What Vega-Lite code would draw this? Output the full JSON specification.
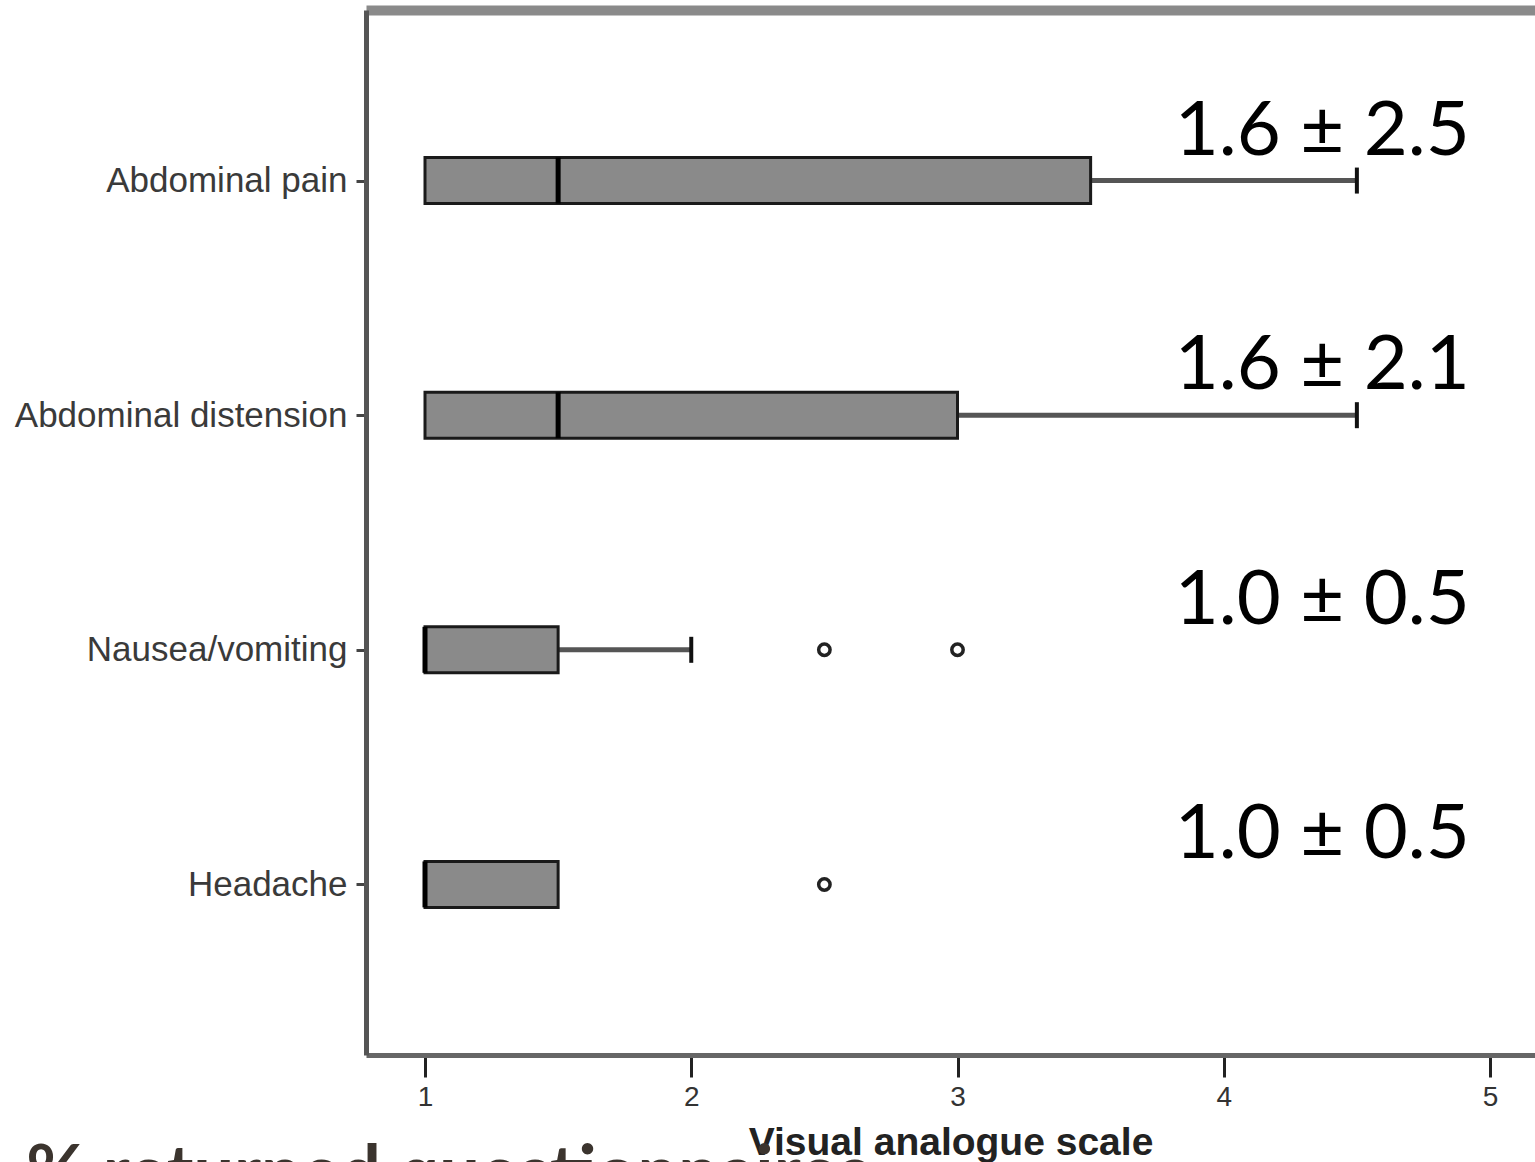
{
  "$schema": "https://vega.github.io/schema/vega-lite/v6.json",
  "autosize": {"type": "none"},
  "padding": {"left": 366, "top": 10, "right": 0, "bottom": 107},
  "width": 1169,
  "height": 1045,
  "background": "white",
  "config": {"view": {"stroke": null}, "font": "Liberation Sans"},
  "title": {
    "text": "% returned questionnaires",
    "orient": "bottom",
    "anchor": "start",
    "frame": "bounds",
    "font": "Lato",
    "fontSize": 72,
    "fontWeight": "bold",
    "color": "#3b342e",
    "offset": -22,
    "dx": 12
  },
  "datasets": {
    "boxes": [
      {"symptom": "Abdominal pain", "q1": 1, "median": 1.5, "q3": 3.5},
      {"symptom": "Abdominal distension", "q1": 1, "median": 1.5, "q3": 3.0},
      {"symptom": "Nausea/vomiting", "q1": 1, "median": 1, "q3": 1.5},
      {"symptom": "Headache", "q1": 1, "median": 1, "q3": 1.5}
    ],
    "whiskers": [
      {"symptom": "Abdominal pain", "from": 3.5, "to": 4.5},
      {"symptom": "Abdominal distension", "from": 3.0, "to": 4.5},
      {"symptom": "Nausea/vomiting", "from": 1.5, "to": 2.0}
    ],
    "outliers": [
      {"symptom": "Nausea/vomiting", "value": 2.5},
      {"symptom": "Nausea/vomiting", "value": 3.0},
      {"symptom": "Headache", "value": 2.5}
    ],
    "labels": [
      {"symptom": "Abdominal pain", "pos": 4.37, "label": "1.6 ± 2.5"},
      {"symptom": "Abdominal distension", "pos": 4.37, "label": "1.6 ± 2.1"},
      {"symptom": "Nausea/vomiting", "pos": 4.37, "label": "1.0 ± 0.5"},
      {"symptom": "Headache", "pos": 4.37, "label": "1.0 ± 0.5"}
    ]
  },
  "encoding": {
    "y": {
      "field": "symptom",
      "type": "nominal",
      "scale": {
        "type": "point",
        "padding": 0.727,
        "domain": ["Abdominal pain", "Abdominal distension", "Nausea/vomiting", "Headache"]
      },
      "axis": {
        "title": null,
        "domainColor": "#555555",
        "domainWidth": 5,
        "tickSize": 10,
        "tickWidth": 3,
        "tickColor": "#444444",
        "labelFontSize": 35,
        "labelColor": "#3a3a3a",
        "labelPadding": 9,
        "labelLimit": 0,
        "grid": false
      }
    }
  },
  "resolve": {"axis": {"x": "independent"}},
  "layer": [
    {
      "data": {"name": "whiskers"},
      "mark": {"type": "rule", "color": "#555555", "strokeWidth": 5},
      "encoding": {
        "x": {
          "field": "from",
          "type": "quantitative",
          "scale": {"domain": [0.7784, 5.169], "nice": false, "zero": false},
          "axis": {
            "title": "Visual analogue scale",
            "values": [1, 2, 3, 4, 5],
            "grid": false,
            "domainColor": "#666666",
            "domainWidth": 5,
            "tickSize": 22,
            "tickWidth": 3,
            "tickColor": "#222222",
            "labelFontSize": 28,
            "labelFont": "Liberation Sans",
            "labelColor": "#333333",
            "labelPadding": 6,
            "titleFontSize": 39,
            "titleFont": "Liberation Sans",
            "titleFontWeight": "bold",
            "titleColor": "#222222",
            "titlePadding": 12
          }
        },
        "x2": {"field": "to"}
      }
    },
    {
      "data": {"name": "whiskers"},
      "mark": {"type": "tick", "color": "#111111", "size": 26, "thickness": 4, "opacity": 1},
      "encoding": {
        "x": {"field": "to", "type": "quantitative", "axis": null}
      }
    },
    {
      "data": {"name": "boxes"},
      "mark": {"type": "bar", "size": 46, "fill": "#8a8a8a", "stroke": "#1a1a1a", "strokeWidth": 3},
      "encoding": {
        "x": {"field": "q1", "type": "quantitative", "axis": null},
        "x2": {"field": "q3"}
      }
    },
    {
      "data": {"name": "boxes"},
      "mark": {"type": "tick", "color": "#000000", "size": 46, "thickness": 5, "opacity": 1},
      "encoding": {
        "x": {"field": "median", "type": "quantitative", "axis": null}
      }
    },
    {
      "data": {"name": "outliers"},
      "mark": {"type": "point", "shape": "circle", "filled": false, "size": 130, "stroke": "#222222", "strokeWidth": 3.5, "opacity": 1},
      "encoding": {
        "x": {"field": "value", "type": "quantitative", "axis": null}
      }
    },
    {
      "data": {"name": "labels"},
      "mark": {"type": "text", "font": "Lato", "fontSize": 76, "color": "#000000", "align": "center", "baseline": "alphabetic", "dy": -26},
      "encoding": {
        "x": {
          "field": "pos",
          "type": "quantitative",
          "axis": {
            "orient": "top",
            "title": null,
            "labels": false,
            "ticks": false,
            "grid": false,
            "domain": true,
            "domainColor": "#8a8a8a",
            "domainWidth": 10
          }
        },
        "text": {"field": "label"}
      }
    }
  ]
}
